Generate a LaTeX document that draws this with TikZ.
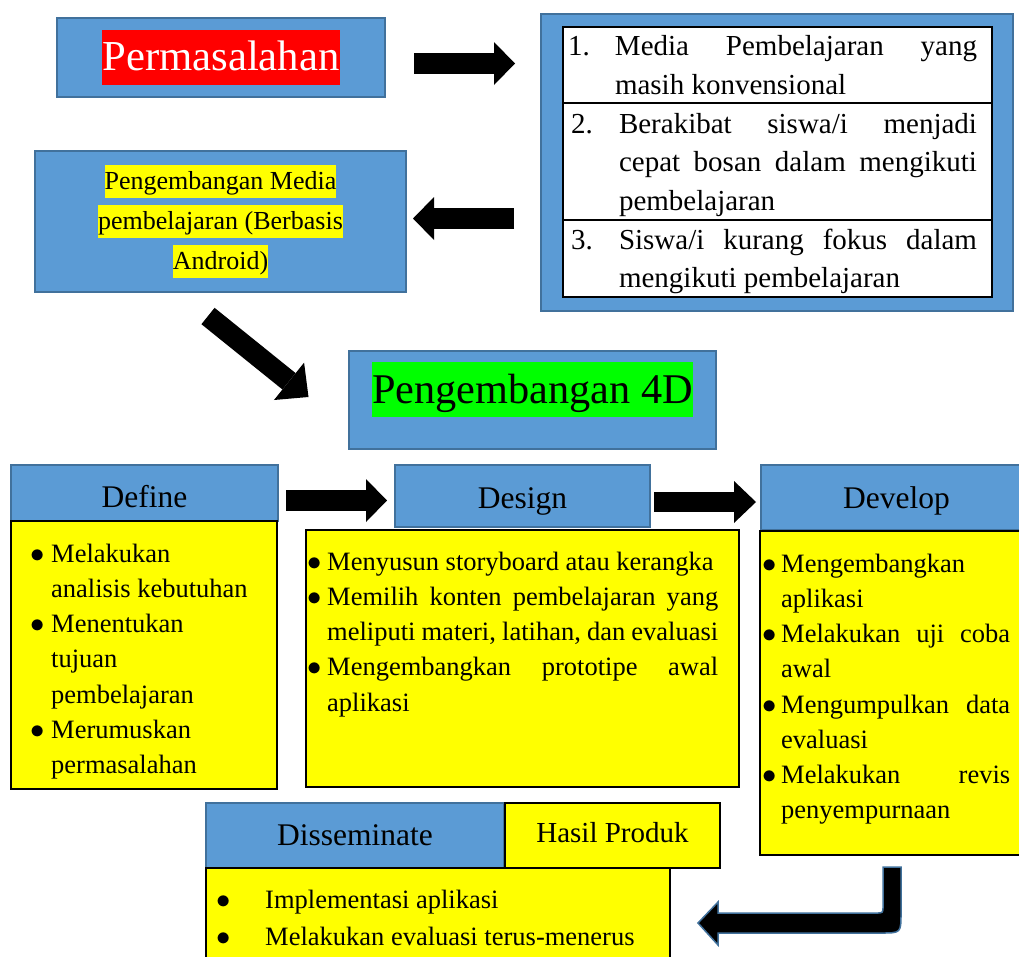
\documentclass[tikz,border=0pt]{standalone}
\usepackage{fontspec}
\setmainfont{Liberation Serif}
\usepackage{graphicx}
\usetikzlibrary{positioning,arrows.meta}
\definecolor{boxblue}{HTML}{5B9BD5}
\definecolor{edgeblue}{HTML}{41719C}
\definecolor{hlyellow}{HTML}{FFFF00}
\definecolor{hlgreen}{HTML}{00FF00}
\definecolor{hlred}{HTML}{FF0000}
\hyphenpenalty=10000
\exhyphenpenalty=10000
\tolerance=10000
\newcommand\hlbox[2]{{\setlength{\fboxsep}{0pt}\colorbox{#1}{\rule[-0.33em]{0pt}{1.29em}#2}}}
\newcommand\pitem[1]{\noindent\hangindent=#1\hangafter=1\makebox[#1][l]{\scalebox{1.15}{$\bullet$}}\strut\ignorespaces}
\newcommand\numitem[2]{\noindent\hangindent=#1\hangafter=1\makebox[#1][l]{#2}\ignorespaces}
\newcommand\rowstrut{\rule[-8pt]{0pt}{36pt}}
\begin{document}
\begin{tikzpicture}[x=1pt,y=-1pt,
  bigbox/.style={draw=edgeblue,line width=2pt,fill=boxblue,inner sep=0pt,outer sep=0pt,anchor=north west},
  headbox/.style={bigbox,line width=1.5pt,text height=24pt,text depth=0pt,font=\fontsize{31.5}{36}\selectfont},
  yellowbox/.style={draw=black,line width=2pt,fill=hlyellow,inner sep=0pt,outer sep=0pt,anchor=north west},
  rowbox/.style={draw=black,line width=1.5pt,fill=white,inner xsep=10pt,inner ysep=0pt,outer sep=0pt,text width=409pt,minimum width=429pt,align=justify,font=\fontsize{29}{38.5}\selectfont},
  listtext/.style={inner sep=0pt,anchor=north west,font=\fontsize{26.5}{35.2}\selectfont},
  blockarrow/.style={line width=21pt,-{Triangle[length=21pt,width=43pt,line width=0pt]}}]
  \useasboundingbox (0,0) rectangle (1019,956);
  \clip (0,0) rectangle (1019,956);
  \node[bigbox,minimum width=328pt,minimum height=79pt,font=\fontsize{42.7}{50}\selectfont] (permbox) at (57,18) {\hlbox{hlred}{\color{white}Permasalahan}};
  \node[bigbox,minimum width=371pt,minimum height=141pt,align=center,font=\fontsize{26}{40}\selectfont] (mediabox) at (35,151) {\hlbox{hlyellow}{Pengembangan Media}\\\hlbox{hlyellow}{pembelajaran (Berbasis}\\\hlbox{hlyellow}{Android)}};
  \node[bigbox,minimum width=472pt,minimum height=297pt] (probbox) at (541,14) {};
  \node[rowbox,minimum height=76pt,anchor=north west] (rowA) at (563,27) {{\leftskip=-5pt\rightskip=5pt\numitem{47pt}{1.}\rowstrut Media Pembelajaran yang masih konvensional\rowstrut\par}};
  \node[rowbox,minimum height=117pt,below=0pt of rowA] (rowB) {{\leftskip=-5pt\rightskip=5pt\numitem{51pt}{\hspace{3pt}2.}\rowstrut Berakibat siswa/i menjadi cepat bosan dalam mengikuti pembelajaran\rowstrut\par}};
  \node[rowbox,minimum height=77pt,below=0pt of rowB] (rowC) {{\leftskip=-5pt\rightskip=5pt\numitem{51pt}{\hspace{3pt}3.}\rowstrut Siswa/i kurang fokus dalam mengikuti pembelajaran\rowstrut\par}};
  \node[bigbox,minimum width=367pt,minimum height=98pt,text height=40pt,text depth=34pt,font=\fontsize{42.3}{50}\selectfont] (dbox) at (349,351) {\hlbox{hlgreen}{Pengembangan 4D}};
  \node[headbox,minimum width=267pt,minimum height=56pt,text height=28pt] (defhead) at (11,465) {Define};
  \node[headbox,minimum width=255pt,minimum height=62pt] (deshead) at (395,465) {Design};
  \node[headbox,minimum width=271pt,minimum height=65pt,text height=22pt] (devhead) at (761,465) {Develop};
  \node[headbox,minimum width=298pt,minimum height=65pt,text height=19pt] (disshead) at (206,803) {Disseminate};
  \node[yellowbox,minimum width=266pt,minimum height=268pt] (defbody) at (11,521) {};
  \node[yellowbox,minimum width=433pt,minimum height=257pt] (desbody) at (306,530) {};
  \node[yellowbox,minimum width=271pt,minimum height=324pt] (devbody) at (760,531) {};
  \node[yellowbox,minimum width=464pt,minimum height=110pt] (dissbody) at (206,868) {};
  \node[yellowbox,minimum width=215pt,minimum height=65pt,text height=13pt,text depth=0pt,font=\fontsize{29}{34}\selectfont] (hasilbox) at (505,803) {Hasil Produk};
  \node[listtext,text width=223pt,align=flush left] (deftext) at (30,537.4) {\pitem{21pt}Melakukan analisis kebutuhan\par\pitem{21pt}Menentukan tujuan pembelajaran\par\pitem{21pt}Merumuskan permasalahan\par};
  \node[listtext,text width=411pt,align=justify] (destext) at (307,545.4) {\pitem{20pt}Menyusun storyboard atau kerangka\par\pitem{20pt}Memilih konten pembelajaran yang meliputi materi, latihan, dan evaluasi\par\pitem{20pt}Mengembangkan prototipe awal aplikasi\par};
  \node[listtext,text width=248pt,align=justify] (devtext) at (762,547.4) {\pitem{19pt}Mengembangkan aplikasi\par\pitem{19pt}Melakukan uji coba awal\par\pitem{19pt}Mengumpulkan data evaluasi\par\pitem{19pt}Melakukan revis penyempurnaan\par};
  \node[listtext,text width=420pt,align=flush left,font=\fontsize{26.5}{37}\selectfont] (disstext) at (216,882.1) {\pitem{49pt}Implementasi aplikasi\par\pitem{49pt}Melakukan evaluasi terus-menerus\par};
  \draw[blockarrow] ([xshift=29pt,yshift=-6pt]permbox.east) -- ++(101,0);
  \draw[blockarrow] ([xshift=108pt,yshift=3pt]mediabox.east) -- ++(-101,0);
  \draw[blockarrow,-{Triangle[length=25pt,width=48pt,line width=0pt]}] ([xshift=-12.5pt,yshift=-24pt]mediabox.south) -- ([xshift=-40.5pt,yshift=3pt]dbox.west);
  \draw[blockarrow] ([xshift=8pt,yshift=-7.5pt]defhead.east) -- ++(101,0);
  \draw[blockarrow,line width=20pt,-{Triangle[length=22pt,width=42pt,line width=0pt]}] ([xshift=4pt,yshift=-6pt]deshead.east) -- ++(102,0);
  \draw[edgeblue,line width=1.5pt,fill=black] (883,867) -- (901,867) -- (901,913) .. controls (901,933) .. (881,933) -- (718,933) -- (718,945) -- (698,923) -- (718,902) -- (718,913) -- (876,913) .. controls (883,913) .. (883,906) -- cycle;
\end{tikzpicture}
\end{document}
